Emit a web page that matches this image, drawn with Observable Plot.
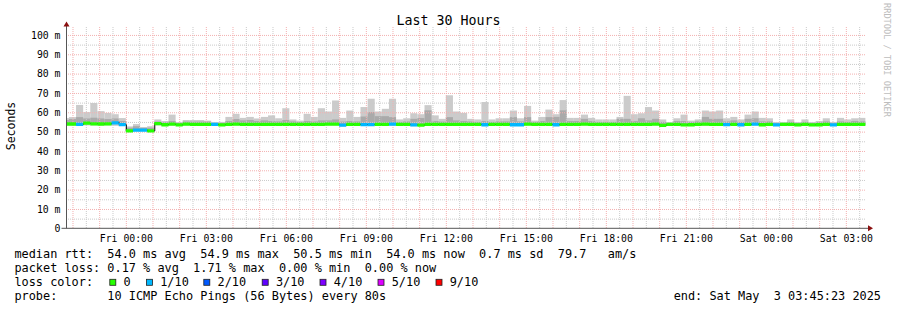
<!DOCTYPE html>
<html><head><meta charset="utf-8">
<script src="https://cdn.jsdelivr.net/npm/d3@7"></script>
<script src="https://cdn.jsdelivr.net/npm/@observablehq/plot@0.6"></script>
<style>
html,body{margin:0;padding:0;background:#fff;}
#wrap{position:relative;width:897px;height:310px;overflow:hidden;background:#fff;}
svg{display:block;}
</style></head><body><div id="wrap"></div>
<script>
// ---------- data ----------
const title = "Last 30 Hours";
const yLabel = "Seconds";
const watermark = "RRDTOOL / TOBI OETIKER";
const rangeStart = "2025-05-01T21:45:23Z";
const rangeEnd = "2025-05-03T03:45:23Z";
const firstColumnStart = "2025-05-01T21:36:00Z";
const stepMinutes = 16;

const smokeMax = [
  57.0,57.5,63.8,60.1,64.8,60.6,59.7,59.0,57.0,52.7,
  53.9,52.3,52.8,56.3,55.5,58.8,54.9,56.0,56.0,56.0,
  55.7,54.9,55.0,57.6,59.2,57.1,57.6,56.8,57.6,58.4,
  56.9,62.1,56.3,55.7,59.2,57.6,62.1,60.4,66.1,57.1,
  60.9,57.6,62.7,67.0,60.4,61.8,67.0,56.3,56.9,59.5,
  59.0,63.7,58.4,56.6,68.8,60.4,59.7,56.6,56.3,65.3,
  56.3,56.9,56.9,60.9,56.9,63.3,55.7,57.6,61.4,59.0,
  66.3,57.1,57.1,58.8,57.1,56.3,56.3,56.3,57.6,68.5,
  59.0,59.5,62.7,60.9,56.3,54.9,56.9,58.8,55.7,56.3,
  60.9,60.4,60.9,56.9,57.6,56.3,58.8,60.4,57.1,56.9,
  54.9,54.9,56.3,54.9,56.3,54.9,55.5,56.9,54.9,57.1,56.3,56.9,57.1
];
const smokeMid = [
  56.0,56.5,57.5,56.8,57.2,56.8,56.5,56.8,55.5,52.0,
  52.8,52.0,52.0,55.2,54.9,55.5,54.5,55.2,55.2,55.2,
  55.2,54.5,54.5,55.5,56.5,55.8,56.0,55.5,55.8,55.5,
  55.3,56.0,55.3,55.0,55.5,55.3,55.8,55.8,56.3,55.2,
  55.5,55.3,57.8,60.1,58.0,58.0,57.5,55.0,55.3,56.6,
  57.0,61.0,55.5,55.2,57.5,55.8,55.5,55.3,55.0,55.5,
  55.0,55.3,55.3,57.5,55.3,57.5,55.0,55.5,57.5,57.6,
  61.0,55.5,55.5,56.6,55.5,55.0,55.0,55.0,56.6,56.6,
  55.5,56.9,55.8,56.6,55.0,54.5,55.5,55.5,55.0,55.3,
  57.6,56.6,56.6,55.3,55.8,55.0,56.6,56.9,55.3,55.3,
  54.5,54.5,55.0,54.5,55.0,54.5,54.9,55.3,54.5,55.3,55.0,55.5,55.3
];
const smokeMin = [
  53.2,53.2,53.0,53.2,53.2,53.2,53.2,53.0,52.9,50.0,
  50.2,50.2,50.0,53.2,53.0,53.2,53.0,53.2,53.2,53.2,
  53.2,53.0,53.0,53.2,53.2,53.2,53.2,53.2,53.2,53.2,
  53.2,53.2,53.2,53.2,53.2,53.2,53.2,53.2,53.2,52.7,
  53.2,53.2,52.9,52.9,53.2,53.2,53.0,53.2,53.2,52.8,
  52.9,53.2,53.2,53.2,53.2,53.2,53.2,53.2,53.2,53.0,
  53.2,53.2,53.2,53.0,53.0,53.2,53.2,53.2,53.2,52.9,
  53.2,53.2,53.2,53.2,53.2,53.2,53.2,53.2,53.0,53.2,
  53.2,53.2,53.2,53.2,52.8,53.2,53.2,53.0,53.0,53.2,
  53.0,53.2,53.2,53.0,53.2,53.0,53.0,53.2,53.0,53.2,
  53.0,53.2,53.2,53.0,53.2,53.0,53.0,53.2,53.0,53.2,53.2,53.2,53.2
];
const median = [
  54.2,54.2,54.0,54.6,54.3,54.2,54.3,54.8,53.9,50.6,
  51.0,51.0,50.6,54.4,53.8,54.1,53.7,54.1,54.0,54.0,
  54.0,54.0,53.7,54.0,54.1,54.0,54.0,54.0,54.0,54.0,
  54.0,54.0,54.0,54.0,54.0,54.0,54.0,54.1,54.1,53.6,
  54.0,54.0,53.9,53.9,54.0,54.0,54.1,54.0,54.0,53.7,
  53.6,54.0,54.0,54.0,54.0,54.0,54.0,54.0,54.0,53.8,
  54.0,54.0,54.0,53.8,53.8,54.1,54.0,54.0,54.0,53.8,
  54.0,54.0,54.0,54.1,54.0,54.0,54.0,54.0,54.0,54.0,
  54.0,54.0,54.0,54.1,53.5,54.0,54.0,53.7,53.8,54.0,
  54.1,54.0,54.0,53.9,54.0,53.8,54.0,54.1,53.8,54.0,
  53.7,54.0,54.0,53.7,54.0,53.7,53.8,54.0,53.7,54.0,54.0,54.0,54.0
];
// index into lossLevels
const loss = [
  0,0,1,0,0,0,0,1,1,0,
  1,1,0,0,0,0,0,0,0,0,
  0,1,0,0,0,0,0,0,0,0,
  0,0,0,0,0,0,0,0,0,1,
  0,0,1,1,0,0,1,0,0,1,
  0,0,0,0,0,0,0,0,0,1,
  0,0,0,1,1,0,0,0,0,1,
  0,0,0,0,0,0,0,0,0,0,
  0,0,0,0,0,0,0,0,0,0,
  0,0,0,1,0,1,0,1,0,0,
  1,0,0,0,0,0,0,0,1,0,0,0,0
];
const lossLevels = ["0","1/10","2/10","3/10","4/10","5/10","9/10"];
const lossColors = ["#26ff00","#00b8ff","#0059ff","#5e00ff","#7e00ff","#dd00ff","#ff0000"];
const yTicks = [0,10,20,30,40,50,60,70,80,90,100];
const yMinorTicks = [5,15,25,35,45,55,65,75,85,95];
const statLines = [
  "median rtt:  54.0 ms avg  54.9 ms max  50.5 ms min  54.0 ms now  0.7 ms sd  79.7   am/s",
  "packet loss: 0.17 % avg  1.71 % max  0.00 % min  0.00 % now"
];
const lossLabel = "loss color:";
const probeLine = "probe:       10 ICMP Echo Pings (56 Bytes) every 80s";
const endLine = "end: Sat May  3 03:45:23 2025";

// ---------- build ----------
const t0 = Date.parse(firstColumnStart);
const cols = smokeMax.map((mx, k) => ({
  t1: new Date(t0 + k * stepMinutes * 60000),
  t2: new Date(t0 + (k + 1) * stepMinutes * 60000),
  max: mx, mid: smokeMid[k], min: smokeMin[k], median: median[k], loss: loss[k]
}));
const start = new Date(rangeStart), end = new Date(rangeEnd);
const hours = d3.utcHour.range(start, end);
const halfHours = d3.utcMinute.every(30).range(start, end).filter(d => d.getUTCMinutes() === 30);
const labelTicks = d3.utcHour.every(3).range(start, end);
const fmt = d3.utcFormat("%a %H:%M");
const FONT = "DejaVu Sans Mono";
const ML = 66, MR = 31, MT = 27, H = 245, YB = 228.3;

const chart = Plot.plot({
  width: 897, height: H,
  marginLeft: ML, marginRight: MR, marginTop: MT, marginBottom: H - YB,
  style: {fontFamily: FONT, fontSize: "9.8px", background: "#fff", color: "#000", overflow: "visible"},
  x: {type: "utc", domain: [start, end]},
  y: {domain: [0, 104.1]},
  marks: [
    Plot.rect(cols, {x1: "t1", x2: "t2", y1: "min", y2: "max", fill: "#cbcbcb", clip: true}),
    Plot.rect(cols, {x1: "t1", x2: "t2", y1: d => d.median - 0.6, y2: "mid", fill: "#aaaaaa", clip: true}),
    Plot.ruleY(yMinorTicks, {stroke: "#cacaca", strokeDasharray: "1,1"}),
    Plot.ruleX(halfHours, {stroke: "#cacaca", strokeDasharray: "1,1"}),
    Plot.ruleY(yTicks.filter(d => d > 0), {stroke: "#f3b0b0", strokeDasharray: "1,1"}),
    Plot.ruleX(hours, {stroke: "#f3b0b0", strokeDasharray: "1,1"}),
    Plot.line(cols, {x: "t1", y: "median", curve: "step-after", stroke: "#000", strokeWidth: 1, clip: true}),
    Plot.ruleY(cols, {y: "median", x1: "t1", x2: "t2", stroke: d => lossColors[d.loss], strokeWidth: 3.3, clip: true}),
    Plot.axisY({ticks: yTicks, tickFormat: d => d === 0 ? "0" : d + " m", tickSize: 0, tickPadding: 6, label: null, fontSize: 9.8}),
    Plot.axisX({ticks: labelTicks, tickFormat: fmt, tickSize: 0, tickPadding: 6, label: null, fontSize: 9.8})
  ]
});

const svg = d3.select(chart);
// axes lines and arrows
svg.append("line").attr("x1", ML + 0.5).attr("x2", ML + 0.5).attr("y1", YB).attr("y2", 24)
  .attr("stroke", "#555").attr("stroke-width", 1);
svg.append("line").attr("x1", 61.5).attr("x2", 869).attr("y1", YB).attr("y2", YB)
  .attr("stroke", "#555").attr("stroke-width", 1);
svg.append("path").attr("d", `M${ML + 0.5 - 3},26.5 L${ML + 0.5 + 3},26.5 L${ML + 0.5},21.5 Z`).attr("fill", "#8b1010");
svg.append("path").attr("d", `M868,${YB - 3} L868,${YB + 3} L873,${YB} Z`).attr("fill", "#8b1010");
// title
svg.append("text").attr("x", 448.5).attr("y", 24.5).attr("text-anchor", "middle")
  .attr("font-family", FONT).attr("font-size", 13.3).attr("fill", "#000").text(title);
// y label
svg.append("text").attr("transform", "translate(15,126) rotate(-90)").attr("text-anchor", "middle")
  .attr("font-family", FONT).attr("font-size", 11.5).attr("fill", "#000").text(yLabel);
// watermark
svg.append("text").attr("transform", "translate(883.5,60) rotate(90)").attr("text-anchor", "middle")
  .attr("font-family", FONT).attr("font-size", 8.6).attr("fill", "#bdbdbd").text(watermark);

// legend below
const leg = d3.create("svg").attr("width", 897).attr("height", 310 - H)
  .attr("font-family", FONT).attr("font-size", 11.88);
const base = [258.3 - H, 272 - H, 286 - H, 300 - H];
statLines.forEach((s, i) => {
  leg.append("text").attr("x", 14.4).attr("y", base[i]).style("white-space", "pre").text(s);
});
leg.append("text").attr("x", 14.4).attr("y", base[2]).style("white-space", "pre").text(lossLabel);
const sqX = [109.3, 146, 203.3, 261.7, 319.5, 377.5, 435.5];
lossLevels.forEach((lab, i) => {
  leg.append("rect").attr("x", sqX[i] + 0.5).attr("y", 279.3 - H).attr("width", 6).attr("height", 6)
    .attr("fill", lossColors[i]).attr("stroke", "#222").attr("stroke-width", 0.8);
  leg.append("text").attr("x", sqX[i] + 14.2).attr("y", base[2]).text(lab);
});
leg.append("text").attr("x", 14.4).attr("y", base[3]).style("white-space", "pre").text(probeLine);
leg.append("text").attr("x", 881).attr("y", base[3]).attr("text-anchor", "end").style("white-space", "pre").text(endLine);

const wrap = document.getElementById("wrap");
wrap.appendChild(chart);
wrap.appendChild(leg.node());
</script></body></html>
